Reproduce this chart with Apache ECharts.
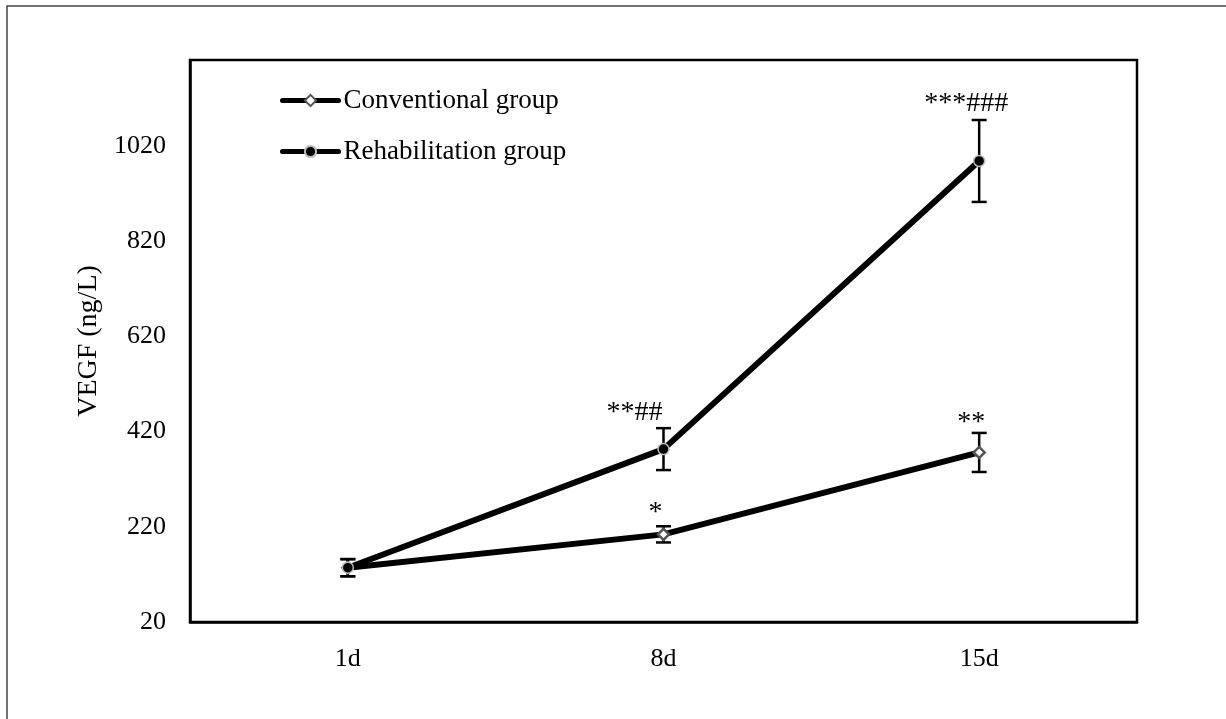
<!DOCTYPE html>
<html>
<head>
<meta charset="utf-8">
<script src="https://cdn.jsdelivr.net/npm/echarts@6/dist/echarts.min.js"></script>
<style>
html,body{margin:0;padding:0;background:#fff;}
#c{width:1226px;height:719px;}
</style>
</head>
<body>
<div id="c"></div>
<script>
const categories = ['1d', '8d', '15d'];
const conventional = [134, 204, 376];
const conventionalErr = [18, 17, 41];
const rehabilitation = [134, 383, 988];
const rehabilitationErr = [18, 44, 86];
const conventionalMarks = ['', '*', '**'];
const rehabilitationMarks = ['', '**##', '***###'];
const yMin = 20, yMax = 1200, yStep = 200;

const FONT = '"Liberation Serif", "Times New Roman", serif';
const markOffsets = {
  conv: [[0, 0], [-8, 0], [-8, 4]],
  rehab: [[0, 0], [-29, -2], [-13, -2]]
};

function errData(vals, errs) {
  return vals.map((v, i) => [i, v - errs[i], v + errs[i]]);
}

function errorBarRender(params, api) {
  const x = api.value(0);
  const lo = api.coord([x, api.value(1)]);
  const hi = api.coord([x, api.value(2)]);
  const hw = 7.5;
  const st = { stroke: '#000', lineWidth: 2.5 };
  return {
    type: 'group',
    children: [
      { type: 'line', shape: { x1: lo[0], y1: lo[1], x2: hi[0], y2: hi[1] }, style: st },
      { type: 'line', shape: { x1: lo[0] - hw, y1: lo[1], x2: lo[0] + hw, y2: lo[1] }, style: st },
      { type: 'line', shape: { x1: hi[0] - hw, y1: hi[1], x2: hi[0] + hw, y2: hi[1] }, style: st }
    ]
  };
}

function markRender(marks, offs) {
  return function (params, api) {
    const i = params.dataIndex;
    const x = api.value(0);
    const p = api.coord([x, api.value(1)]);
    const o = offs[i];
    return {
      type: 'text',
      x: p[0] + o[0],
      y: p[1] + o[1],
      style: {
        text: marks[i],
        font: '28px ' + FONT,
        fill: '#000',
        align: 'center',
        verticalAlign: 'bottom'
      }
    };
  };
}

const chart = echarts.init(document.getElementById('c'), null, { renderer: 'canvas' });
chart.setOption({
  backgroundColor: '#fff',
  animation: false,
  textStyle: { fontFamily: FONT, color: '#000' },
  graphic: [{
    type: 'rect',
    shape: { x: 7, y: 6, width: 1400, height: 900 },
    style: { fill: 'none', stroke: '#444', lineWidth: 1.5 },
    silent: true,
    z: 0
  }],
  grid: {
    left: 190, top: 60, right: 89, bottom: 97,
    show: true, borderColor: '#000', borderWidth: 2.5, backgroundColor: 'transparent'
  },
  legend: {
    orient: 'vertical',
    left: 280, top: 87, padding: 0,
    itemWidth: 56, itemHeight: 14, itemGap: 24,
    lineStyle: { width: 5, cap: 'round' },
    textStyle: { fontFamily: FONT, fontSize: 27, color: '#000' },
    data: ['Conventional group', 'Rehabilitation group']
  },
  xAxis: {
    type: 'category',
    data: categories,
    boundaryGap: true,
    axisLine: { show: true, lineStyle: { color: '#000', width: 2.5 } },
    axisTick: { show: false },
    axisLabel: { fontFamily: FONT, fontSize: 26, color: '#000', margin: 24 },
    splitLine: { show: false }
  },
  yAxis: {
    type: 'value',
    min: yMin, max: yMax, interval: yStep,
    name: 'VEGF (ng/L)',
    nameLocation: 'middle',
    nameGap: 84,
    nameTextStyle: { fontFamily: FONT, fontSize: 28, color: '#000' },
    axisLine: { show: true, lineStyle: { color: '#000', width: 2.5 } },
    axisTick: { show: false },
    axisLabel: {
      fontFamily: FONT, fontSize: 26, color: '#000', margin: 24, showMaxLabel: false,
      formatter: v => String(v)
    },
    splitLine: { show: false }
  },
  series: [
    {
      type: 'custom', name: 'errConv', renderItem: errorBarRender,
      data: errData(conventional, conventionalErr), z: 1, silent: true
    },
    {
      type: 'custom', name: 'errRehab', renderItem: errorBarRender,
      data: errData(rehabilitation, rehabilitationErr), z: 1, silent: true
    },
    {
      name: 'Conventional group', type: 'line', data: conventional,
      symbol: 'diamond', symbolSize: 11, showAllSymbol: true,
      lineStyle: { color: '#000', width: 6 },
      itemStyle: { color: '#fff', borderColor: '#555', borderWidth: 2.5 },
      z: 3
    },
    {
      name: 'Rehabilitation group', type: 'line', data: rehabilitation,
      symbol: 'circle', symbolSize: 11, showAllSymbol: true,
      lineStyle: { color: '#000', width: 6 },
      itemStyle: { color: '#000', borderColor: '#bbb', borderWidth: 1.5 },
      z: 4
    },
    {
      type: 'custom', name: 'marksConv', renderItem: markRender(conventionalMarks, markOffsets.conv),
      data: errData(conventional, conventionalErr).map(d => [d[0], d[2]]), z: 5, silent: true
    },
    {
      type: 'custom', name: 'marksRehab', renderItem: markRender(rehabilitationMarks, markOffsets.rehab),
      data: errData(rehabilitation, rehabilitationErr).map(d => [d[0], d[2]]), z: 5, silent: true
    }
  ]
});
</script>
</body>
</html>
